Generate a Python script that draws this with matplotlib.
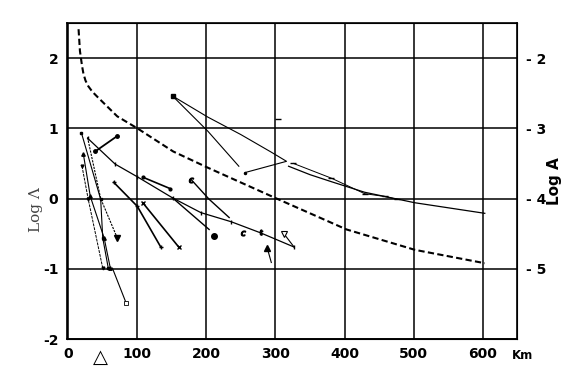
import matplotlib.pyplot as plt

# distance (km) / log amplitude readings
curve1_km = [15, 17, 20, 22, 25, 29, 35, 42, 71, 100, 152, 202, 304, 403, 502, 603]
curve1_log = [2.41, 2.1, 1.89, 1.78, 1.68, 1.6, 1.52, 1.45, 1.17, 1.0, 0.67, 0.44, -0.01, -0.44, -0.73, -0.92]

curve2_km = [319, 350, 381, 429, 502, 603]
curve2_log = [0.46, 0.34, 0.24, 0.09, -0.06, -0.21]
curve2b_km = [326, 381, 429, 458, 476]
curve2b_log = [0.5, 0.29, 0.07, 0.03, -0.01]

loop_km = [247, 202, 151, 202, 250, 294, 316, 256]
loop_log = [0.46, 0.96, 1.46, 1.16, 0.91, 0.66, 0.53, 0.37]

a_km = [19, 47, 50, 58]
a_log = [0.94, -0.01, -0.56, -0.99]
b_km = [28, 47, 71]
b_log = [0.87, 0.0, -0.56]
c_km = [22, 32, 52, 61]
c_log = [0.63, 0.03, -0.56, -0.99]
d_km = [20, 29, 50]
d_log = [0.46, -0.01, -0.99]
e_km = [64, 84]
e_log = [-0.99, -1.49]
f_km = [39, 71]
f_log = [0.67, 0.89]
g_km = [28, 68, 100, 151, 192, 236, 279, 327]
g_log = [0.86, 0.49, 0.31, 0.01, -0.2, -0.33, -0.49, -0.69]
h_km = [109, 148]
h_log = [0.3, 0.14]
i_km = [66, 100, 134]
i_log = [0.23, -0.11, -0.69]
j_km = [108, 160]
j_log = [-0.06, -0.69]
k_km = [178, 204, 233]
k_log = [0.27, -0.01, -0.27]
l_km = [151, 204]
l_log = [0.01, -0.44]
m_km = [288, 294]
m_log = [-0.7, -0.91]
n_km = [313, 327]
n_log = [-0.51, -0.69]

xticks = [0, 100, 200, 300, 400, 500, 600]
yticks = [-2, -1, 0, 1, 2]
right_labels = ['- 2', '- 3', '- 4', '- 5']

fig = plt.figure(figsize=(5.76, 3.69), dpi=100)
ax = fig.add_axes([0.116, 0.081, 0.782, 0.857])

ax.plot(curve1_km, curve1_log, color='black', lw=1.5, ls=(0, (3, 1.6)))
ax.plot(curve2_km, curve2_log, color='black', lw=0.9)
ax.plot(curve2b_km, curve2b_log, color='black', lw=0.7, marker='_', ms=4)
ax.plot(loop_km, loop_log, color='black', lw=0.8)
ax.plot(loop_km[2], loop_log[2], 's', color='black', ms=2.5)
ax.plot(loop_km[-1], loop_log[-1], '.', color='black', ms=3)

ax.plot(a_km, a_log, color='black', lw=0.8, marker='s', ms=2)
ax.plot(b_km, b_log, color='black', lw=0.8, ls=(0, (2, 1)))
ax.plot(b_km[-1], b_log[-1], 'v', color='black', ms=5)
ax.plot(c_km, c_log, color='black', lw=0.8, marker='^', ms=2.5)
ax.plot(d_km, d_log, color='black', lw=0.7, ls=(0, (3, 1)), marker='v', ms=2)
ax.plot(e_km, e_log, color='black', lw=0.8)
ax.plot(e_km[-1], e_log[-1], 's', mfc='white', mec='black', ms=2.5, mew=0.6)
ax.plot(f_km, f_log, color='black', lw=1.3, marker='o', ms=2.5)
ax.plot(g_km, g_log, color='black', lw=0.9, marker='|', ms=3)
ax.plot(h_km, h_log, color='black', lw=1.2, marker='.', ms=4)
ax.plot(i_km, i_log, color='black', lw=1.2, marker='+', ms=3)
ax.plot(j_km, j_log, color='black', lw=1.2, marker='x', ms=2.5)
ax.plot(k_km, k_log, color='black', lw=1.0)
ax.plot(k_km[0], k_log[0], marker='$c$', color='black', ms=3.5)
ax.plot(l_km, l_log, color='black', lw=1.0)
ax.plot(211, -0.53, 'o', color='black', ms=4)
ax.plot(m_km, m_log, color='black', lw=0.8)
ax.plot(m_km[0], m_log[0], '^', color='black', ms=4)
ax.plot(n_km, n_log, color='black', lw=0.8)
ax.plot(n_km[0], n_log[0], 'v', mfc='white', mec='black', ms=4, mew=0.8)
ax.plot(253, -0.49, marker='$c$', color='black', ms=3.5)
ax.plot(279, -0.47, marker='$t$', color='black', ms=3.5)
ax.plot(304, 1.13, '_', color='black', ms=4)

ax.set_xlim(-2, 650)
ax.set_ylim(-2, 2.5)
ax.set_xticks(xticks)
ax.set_yticks(yticks)
ax.set_xticklabels([str(t) for t in xticks], fontsize=10, fontweight='bold')
ax.set_yticklabels([str(t) for t in yticks], fontsize=10, fontweight='bold')
ax.tick_params(length=0, pad=6)
ax.grid(True, color='black', lw=1.1)
for s in ax.spines.values():
    s.set_linewidth(1.2)

ax.text(47, -2.13, '\u25b3', fontsize=14, ha='center', va='top')
ax.text(658, -2.14, 'Km', fontsize=8.5, fontweight='bold', ha='center', va='top')
ax.text(-47, -0.15, 'Log \u039b', rotation=90, fontsize=11, family='DejaVu Serif',
        color='#444444', ha='center', va='center')

ax2 = ax.twinx()
ax2.set_ylim(-2, 2.5)
ax2.set_yticks([2, 1, 0, -1])
ax2.set_yticklabels(right_labels, fontsize=10, fontweight='bold')
ax2.tick_params(length=0, pad=6)
ax2.set_ylabel('Log A', fontsize=11, fontweight='bold', labelpad=1)

fig.savefig('out.png')
